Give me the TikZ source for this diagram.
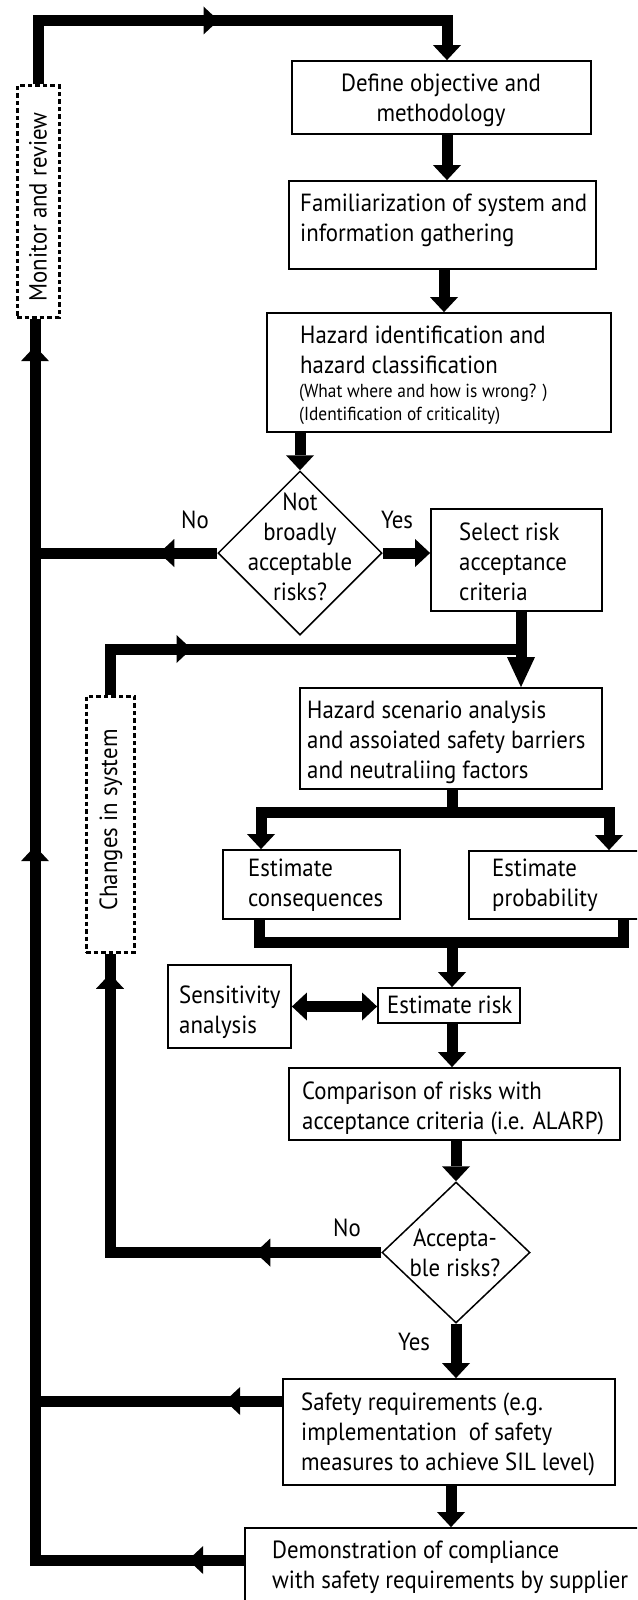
\documentclass[tikz,border=0pt]{standalone}
\usepackage{fontspec}
\setmainfont{PT Sans}[FakeStretch=0.92]
\usetikzlibrary{arrows.meta,decorations.markings,shapes.geometric}

\newlength\reflen
\newcommand\tstrut{\rule{0pt}{22pt}}
% body size chosen so that a reference line gets its intended width
\AtBeginDocument{%
  \settowidth\reflen{\normalfont\fontsize{24pt}{30pt}\selectfont Familiarization of system and}%
  \ifdim\reflen<1pt \setlength\reflen{287pt}\fi
  \pgfmathsetmacro\fsmain{24*287/\reflen}%
  \pgfmathsetmacro\fssmall{\fsmain*0.76}%
  \xdef\fsmain{\fsmain}\xdef\fssmall{\fssmall}%
}
\newcommand\bodyfont{\fontsize{\fsmain pt}{30pt}\selectfont}
\newcommand\notefont{\fontsize{\fssmall pt}{23pt}\selectfont}

\begin{document}
\begin{tikzpicture}[x=1pt,y=-1pt,
  >={Triangle[length=15pt 0,width=28pt 0,line width=0pt]},
  flow/.style={line width=11pt, line join=miter},
  midarrow/.style={postaction={decorate,decoration={markings,mark=at position #1 with {\arrow{>}}}}},
  box/.style={draw, line width=1.8pt, rectangle, inner sep=0pt},
  dashbox/.style={draw, line width=3pt, dash pattern=on 4.5pt off 3pt, rectangle, inner sep=0pt},
  decision/.style={draw, line width=1.5pt, diamond, inner sep=0pt},
  txt/.style={anchor=north west, inner sep=0pt, align=left, font=\bodyfont},
  ctxt/.style={anchor=north, inner sep=0pt, align=center, font=\bodyfont},
  lbl/.style={inner sep=0pt, font=\bodyfont},
]
\useasboundingbox (0,0) rectangle (637,1600);
\fill[white] (0,0) rectangle (637,1600);
\clip (0,0) rectangle (637,1600);

% ---- boxes ----
\node[dashbox, minimum width=42pt, minimum height=231pt] (monitor) at (38,201.5) {};
\node[box, minimum width=299pt, minimum height=73pt] (define) at (441.5,97.5) {};
\node[box, minimum width=307pt, minimum height=88pt] (fam) at (442.5,225) {};
\node[box, minimum width=344pt, minimum height=119pt] (hazard) at (439,372.5) {};
\node[decision, minimum width=164pt, minimum height=164pt] (d1) at (300,553) {};
\node[box, minimum width=171pt, minimum height=102pt] (select) at (516.5,560) {};
\node[dashbox, minimum width=48pt, minimum height=256pt] (changes) at (110,824) {};
\node[box, minimum width=302pt, minimum height=101pt] (hscen) at (451,738.5) {};
\node[box, minimum width=177pt, minimum height=69pt] (cons) at (311.5,884.5) {};
\node[box, minimum width=211pt, minimum height=68pt] (prob) at (574.5,885) {};
\node[box, minimum width=123pt, minimum height=83pt] (sens) at (229.5,1006.5) {};
\node[box, minimum width=142pt, minimum height=35pt] (risk) at (449,1005.5) {};
\node[box, minimum width=331pt, minimum height=72pt] (comp) at (454.5,1104) {};
\node[decision, minimum width=148pt, minimum height=141pt] (d2) at (456,1252.5) {};
\node[box, minimum width=332pt, minimum height=106pt] (safety) at (449,1432) {};
\node[box, minimum width=455pt, minimum height=122pt] (demo) at (472.5,1589) {};

% ---- texts ----
\node[lbl, rotate=90] (monitortxt) at (38,207) {Monitor and review};
\node[lbl, rotate=90] (changestxt) at (111,820) {Changes in system};
\node[ctxt] (definetxt) at (441,69) {\tstrut Define objective and\\methodology};
\node[txt] (famtxt) at (300,189) {\tstrut Familiarization of system and\\information gathering};
\node[txt] (hazardtxt) at (300,321) {\tstrut Hazard identification and\\hazard classification};
\node[txt, font=\notefont] (hazardnote) at (299,375) {\tstrut (What where and how is wrong? )\\(Identification of criticality)};
\node[ctxt] (d1txt) at (300,488) {\tstrut Not\\broadly\\acceptable\\risks?};
\node[txt] (selecttxt) at (459,518) {\tstrut Select risk\\acceptance\\criteria};
\node[txt] (hscentxt) at (307,696) {\tstrut Hazard scenario analysis\\and assoiated safety barriers\\and neutraliing factors};
\node[txt] (constxt) at (248,854) {\tstrut Estimate\\consequences};
\node[txt] (probtxt) at (492,854) {\tstrut Estimate\\probability};
\node[txt] (senstxt) at (179,981) {\tstrut Sensitivity\\analysis};
\node[txt] (risktxt) at (387,991) {\tstrut Estimate risk};
\node[txt] (comptxt) at (302,1077) {\tstrut Comparison of risks with\\acceptance criteria (i.e. ALARP)};
\node[ctxt] (d2txt) at (455,1224) {\tstrut Accepta-\\ble risks?};
\node[txt] (safetytxt) at (301,1388) {\tstrut Safety requirements (e.g.\\implementation\ \ of safety\\measures to achieve SIL level)};
\node[txt] (demotxt) at (272,1536) {\tstrut Demonstration of compliance\\with safety requirements by supplier};

\node[lbl] (no1) at (195,520) {No};
\node[lbl] (yes1) at (397,520) {Yes};
\node[lbl] (no2) at (347,1228) {No};
\node[lbl] (yes2) at (414,1342) {Yes};

% ---- connectors ----
\coordinate (corner) at (35,1560);
\coordinate (split) at (452,812);
\coordinate (merge) at (452,942);

\draw[flow,->,midarrow=244.5pt] (monitor.north) -- (38,20.5) -- (447,20.5) -- (447,0 |- define.north);
\draw[flow,->] (447,0 |- define.south) -- (447,0 |- fam.north);
\draw[flow,->] (444,0 |- fam.south) -- (444,0 |- hazard.north);
\draw[flow,->] (d1.north |- hazard.south) -- (d1.north);
\draw[flow,midarrow=58pt] (d1.west) -- (d1.west -| corner);
\draw[flow,->] (d1.east) -- (d1.east -| select.west);
\draw[flow,-{Triangle[length=30pt 0,width=28pt 0,line width=0pt]}] (521,0 |- select.south) -- (521,0 |- hscen.north);
\draw[flow,midarrow=127pt] (changes.north) |- (521,649);
\draw[flow] (split |- hscen.south) -- (split);
\draw[flow,->] (split) -| (261,0 |- cons.north);
\draw[flow,->] (split) -| (609,0 |- prob.north);
\draw[flow] (259,0 |- cons.south) |- (623,942) -- (623,0 |- prob.south);
\draw[flow,->] (merge) -- (merge |- risk.north);
\draw[flow,<->] (sens.east) -- (sens.east -| risk.west);
\draw[flow,->] (452,0 |- risk.south) -- (452,0 |- comp.north);
\draw[flow,->] (d2.north |- comp.south) -- (d2.north);
\draw[flow,midarrow=126pt,midarrow=550pt] (d2.west) -| (changes.south);
\draw[flow,->] (d2.south) -- (d2.south |- safety.north);
\draw[flow,midarrow=57pt] (safety.west |- 0,1401) -- (corner |- 0,1401);
\draw[flow,->] (451,0 |- safety.south) -- (451,0 |- demo.north);
\draw[flow,midarrow=56pt,midarrow=923pt,midarrow=1423pt] (demo.west |- corner) -- (corner) -- (corner |- monitor.south);
\end{tikzpicture}
\end{document}
